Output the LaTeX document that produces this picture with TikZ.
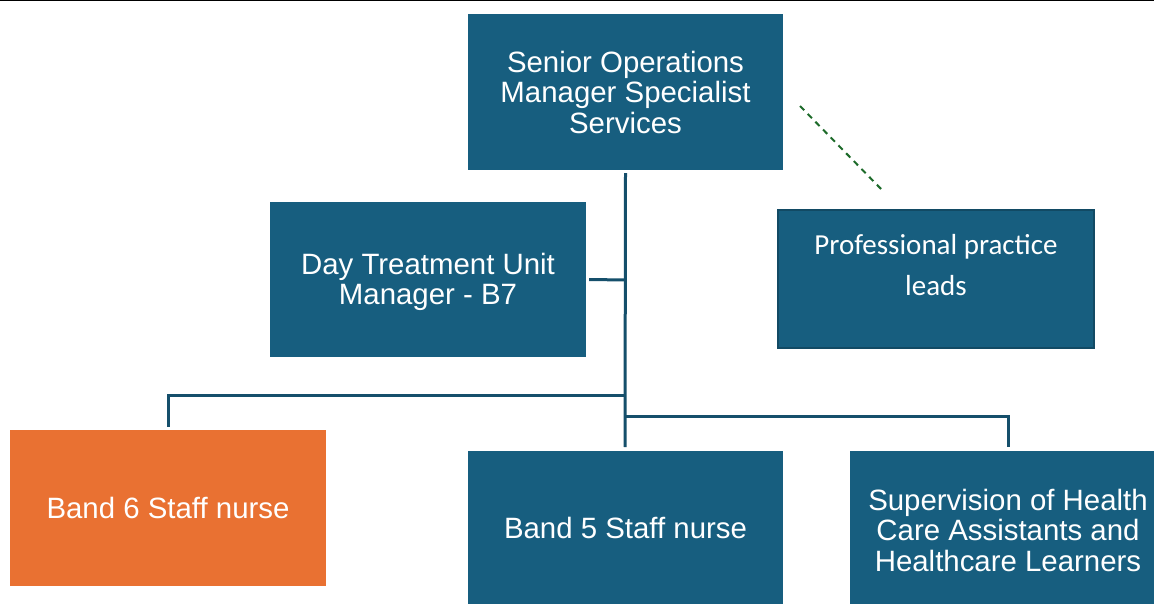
\documentclass[tikz,border=0pt]{standalone}
\usepackage{fontspec}
\setmainfont{Liberation Sans}
\newfontfamily\calib{Carlito}
\definecolor{boxblue}{HTML}{175E7F}
\definecolor{edgeblue}{HTML}{124A64}
\definecolor{linkblue}{HTML}{154F6B}
\definecolor{boxorange}{HTML}{E97132}
\definecolor{dashgreen}{HTML}{1D6B2A}
\tikzset{
  unit/.style={fill=boxblue, draw=none, inner sep=0pt, text=white, align=center,
    font=\fontsize{29.4}{30.5}\selectfont},
  orangeunit/.style={unit, fill=boxorange},
  label text/.style={text=white, align=center, inner sep=0pt},
  conn/.style={draw=linkblue, line width=3pt},
  dotted link/.style={draw=dashgreen, line width=2pt, dash pattern=on 6pt off 5pt}
}
\begin{document}
\begin{tikzpicture}[x=1pt, y=-1pt]
\useasboundingbox (0,0) rectangle (1154,604);
\fill[white] (0,0) rectangle (1154,604);
% rule along the top edge
\draw[black, line width=1.5pt] (0,0.75) -- (1154,0.75);

% units
\node[unit, minimum width=315pt, minimum height=156pt] (top) at (625.5,92)
  {Senior Operations\\Manager Specialist\\Services};
\node[unit, minimum width=316pt, minimum height=155pt] (dtu) at (428,279.5) {};
\node[label text, font=\fontsize{29.4}{30.5}\selectfont] (dtutext) at (428,282)
  {Day Treatment Unit\\Manager - B7};
\node[unit, draw=edgeblue, line width=2pt, minimum width=316pt, minimum height=138pt] (ppl) at (936,279) {};
\node[label text, font=\calib\fontsize{29}{41}\selectfont] (ppltext) at (936,265)
  {Professional practice\\leads};
\node[orangeunit, minimum width=316pt, minimum height=156pt] (b6) at (168,508)
  {Band 6 Staff nurse};
\node[unit, minimum width=315pt, minimum height=154pt] (b5) at (625.5,528)
  {Band 5 Staff nurse};
\node[unit, minimum width=306pt, minimum height=154pt] (sup) at (1003,528) {};
\node[label text, font=\fontsize{29.4}{30.5}\selectfont] (suptext) at (1008,530)
  {Supervision of Health\\Care Assistants and\\Healthcare Learners};

% junctions on the reporting trunk
\coordinate (jdtu) at (625,280);
\coordinate (jleft) at (625,395);
\coordinate (jright) at (625,416);
\coordinate (tend) at (625,447);
\coordinate (suptop) at (1008,447);
\coordinate (b6top) at (168,427);
\coordinate (dashA) at (800,106);
\coordinate (dashB) at (884,192);

% connectors
\draw[conn] ([yshift=-3pt]top.south) -- (tend);
\draw[conn] ([xshift=3pt]dtu.east) -- (jdtu);
\draw[conn] (jleft) -| (b6top);
\draw[conn] (jright) -| (suptop);
\draw[dotted link] (dashA) -- (dashB);
\end{tikzpicture}
\end{document}
